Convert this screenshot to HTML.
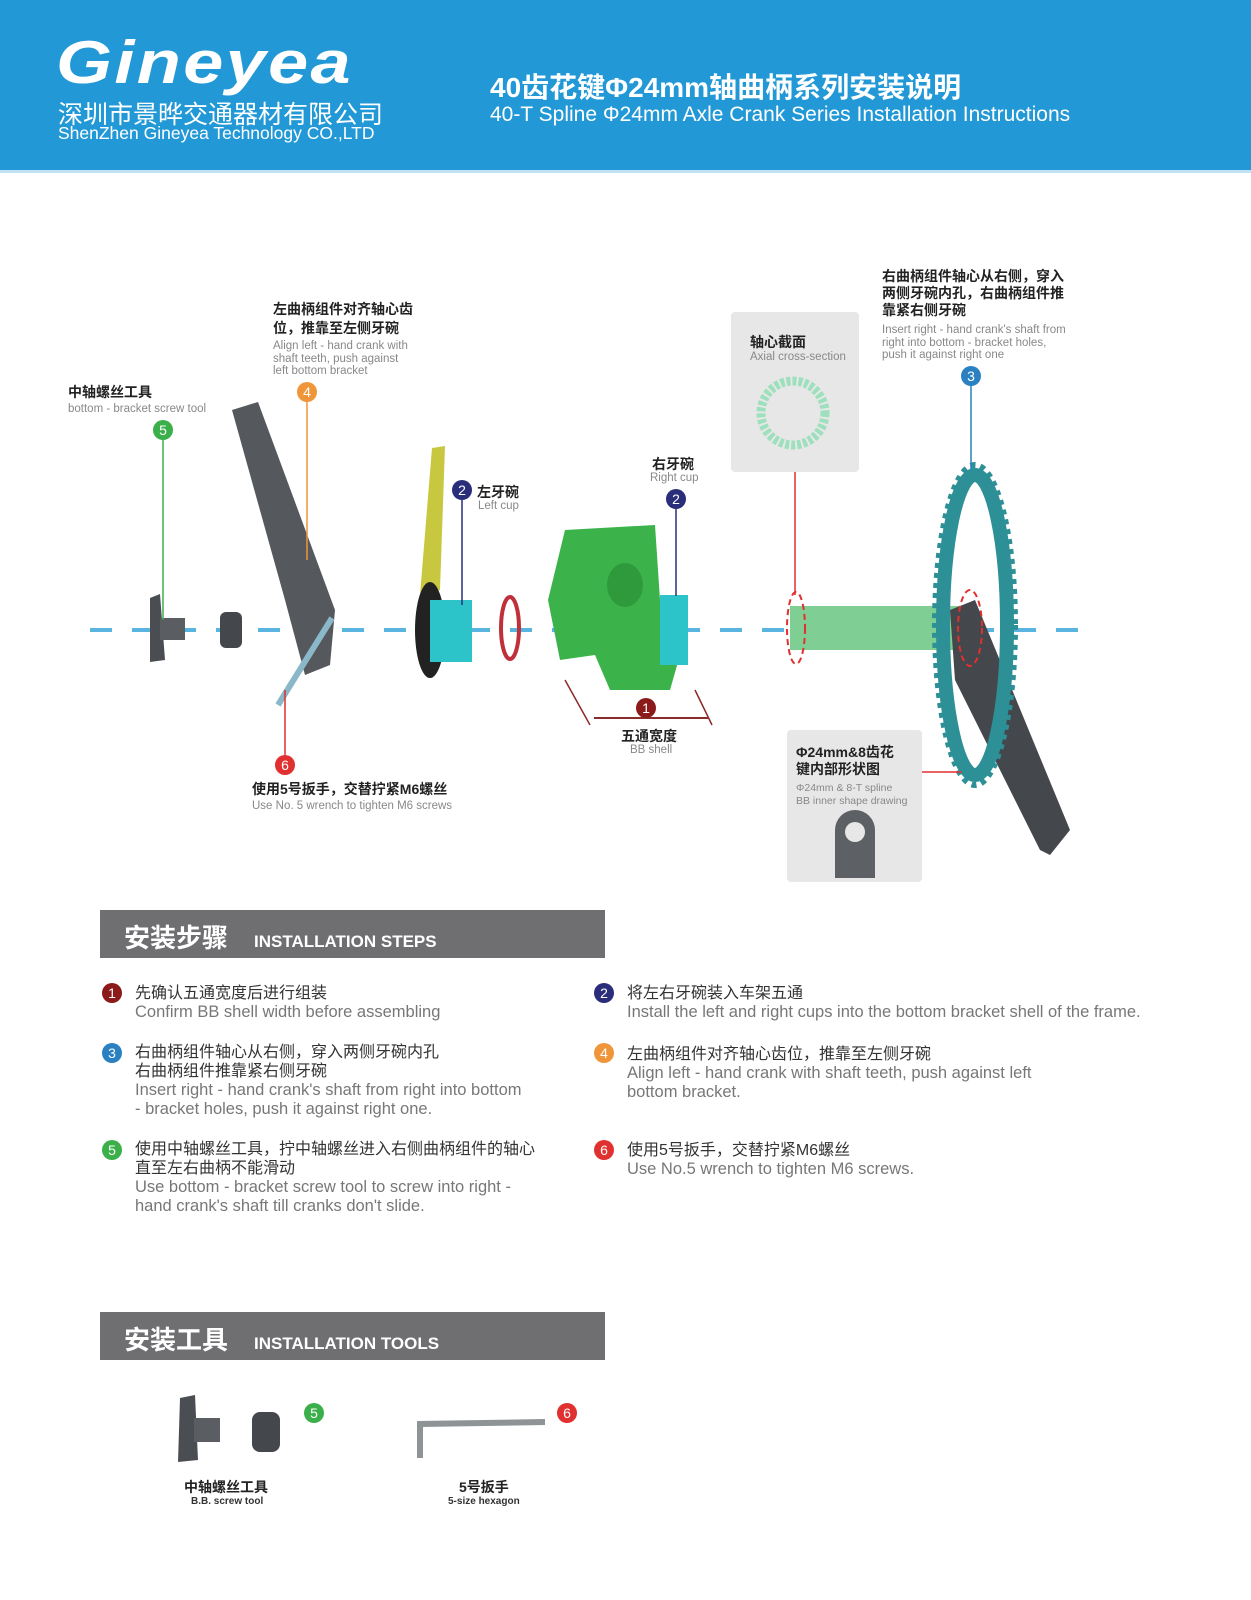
<!DOCTYPE html>
<html><head><meta charset="utf-8"><style>
body{margin:0;width:1251px;height:1600px;position:relative;background:#fff;font-family:"Liberation Sans","Noto Sans CJK SC",sans-serif;overflow:hidden}
.a{position:absolute;white-space:nowrap}
.hd{position:absolute;left:0;top:0;width:1251px;height:170px;background:#2299d6;border-bottom:3px solid #bfe3f5}
.b{position:absolute;width:20px;height:20px;border-radius:50%;color:#fff;font-size:14px;text-align:center;line-height:20px}
.cb{font-weight:bold;font-size:14px;color:#222}
.en{font-size:11.5px;color:#888}
.bar{position:absolute;left:100px;width:505px;height:48px;background:#6f6f72;color:#fff}
.st{font-size:16px;color:#333;line-height:19px}
.st .e{color:#777;font-size:16.5px}
</style></head><body>
<div class="hd"></div>
<div class="a" style="left:56px;top:28px;font-size:60px;font-style:italic;font-weight:bold;color:#fff;letter-spacing:2px;transform:scaleX(1.2);transform-origin:left">Gineyea</div>
<div class="a" style="left:58px;top:95px;font-size:25px;color:#fff">深圳市景晔交通器材有限公司</div>
<div class="a" style="left:58px;top:123px;font-size:17.5px;color:#fff">ShenZhen Gineyea Technology CO.,LTD</div>
<div class="a" style="left:490px;top:66px;font-size:28px;font-weight:bold;color:#fff">40齿花键Φ24mm轴曲柄系列安装说明</div>
<div class="a" style="left:490px;top:103px;font-size:21px;color:#fff">40-T Spline Φ24mm Axle Crank Series Installation Instructions</div>

<svg class="a" style="left:0;top:0" width="1251" height="900">
<line x1="90" y1="630" x2="1090" y2="630" stroke="#5ab4e0" stroke-width="4" stroke-dasharray="22 20"/>
<path d="M150 598 L160 594 L165 660 L150 662 Z" fill="#4a4d52"/><rect x="160" y="618" width="25" height="22" fill="#5a5d62"/>
<rect x="220" y="612" width="22" height="36" rx="6" fill="#44474c"/>
<path d="M232 410 L258 402 L335 610 L330 665 L305 675 L285 600 Z" fill="#55585d"/>
<line x1="278" y1="705" x2="332" y2="618" stroke="#8ab8c8" stroke-width="6"/>
<path d="M432 448 L445 446 L440 590 L420 595 Z" fill="#c8c840"/>
<ellipse cx="430" cy="630" rx="15" ry="48" fill="#222"/><rect x="430" y="600" width="42" height="62" fill="#2cc4c8"/>
<ellipse cx="510" cy="628" rx="9" ry="31" fill="none" stroke="#c0303a" stroke-width="4"/>
<path d="M565 530 L655 525 L660 600 L680 655 L670 690 L610 690 L595 655 L560 660 L548 600 Z" fill="#3cb34a"/>
<ellipse cx="625" cy="585" rx="18" ry="22" fill="#2e9a3c"/>
<rect x="660" y="595" width="28" height="70" fill="#2cc4c8"/>
<line x1="565" y1="680" x2="590" y2="725" stroke="#8b2a2a" stroke-width="1.5"/><line x1="695" y1="690" x2="712" y2="725" stroke="#8b2a2a" stroke-width="1.5"/>
<line x1="594" y1="718" x2="708" y2="718" stroke="#8b2a2a" stroke-width="2"/>
<rect x="790" y="606" width="170" height="44" fill="#7fcf95"/>
<ellipse cx="796" cy="628" rx="9" ry="36" fill="none" stroke="#e03030" stroke-width="2" stroke-dasharray="6 4"/>
<path d="M950 610 L975 600 L1070 830 L1050 855 L1040 850 L955 680 Z" fill="#44474c"/>
<ellipse cx="975" cy="625" rx="32" ry="150" fill="none" stroke="#2e9097" stroke-width="14"/>
<ellipse cx="975" cy="625" rx="40" ry="160" fill="none" stroke="#2e9097" stroke-width="6" stroke-dasharray="5 5"/>
<ellipse cx="970" cy="628" rx="12" ry="38" fill="none" stroke="#e03030" stroke-width="2" stroke-dasharray="6 4"/>
<rect x="731" y="312" width="128" height="160" rx="4" fill="#e7e7e7"/>
<circle cx="793" cy="413" r="32" fill="none" stroke="#9ee0bd" stroke-width="9" stroke-dasharray="4 2"/>
<rect x="787" y="730" width="135" height="152" rx="4" fill="#e7e7e7"/>
<path d="M835 878 L835 830 A20 20 0 0 1 875 830 L875 878 Z" fill="#5d6065"/><circle cx="855" cy="832" r="10" fill="#e7e7e7"/>
<line x1="163" y1="440" x2="163" y2="620" stroke="#3bb04a" stroke-width="1.5"/>
<line x1="307" y1="402" x2="307" y2="560" stroke="#f0963a" stroke-width="1.5"/>
<line x1="462" y1="500" x2="462" y2="605" stroke="#2a2d7a" stroke-width="1.5"/>
<line x1="676" y1="509" x2="676" y2="596" stroke="#2a2d7a" stroke-width="1.5"/>
<line x1="285" y1="690" x2="285" y2="755" stroke="#e03030" stroke-width="1.5"/>
<line x1="971" y1="386" x2="971" y2="470" stroke="#2a80c0" stroke-width="1.5"/>
<line x1="795" y1="472" x2="795" y2="595" stroke="#e03030" stroke-width="1.5"/>
<line x1="922" y1="772" x2="962" y2="772" stroke="#e03030" stroke-width="1.5"/>
</svg>
<div class="b" style="left:153px;top:420px;background:#3bb04a">5</div>
<div class="b" style="left:297px;top:382px;background:#f0963a">4</div>
<div class="b" style="left:452px;top:480px;background:#2a2d7a">2</div>
<div class="b" style="left:666px;top:489px;background:#2a2d7a">2</div>
<div class="b" style="left:636px;top:698px;background:#8b1a1a">1</div>
<div class="b" style="left:275px;top:755px;background:#e03030">6</div>
<div class="b" style="left:961px;top:366px;background:#2a80c0">3</div>

<div class="a cb" style="left:68px;top:382px">中轴螺丝工具</div>
<div class="a en" style="left:68px;top:403px">bottom - bracket screw tool</div>
<div class="a cb" style="left:273px;top:300px;line-height:19px">左曲柄组件对齐轴心齿<br>位，推靠至左侧牙碗</div>
<div class="a en" style="left:273px;top:340px;line-height:12.5px">Align left - hand crank with<br>shaft teeth, push against<br>left bottom bracket</div>
<div class="a cb" style="left:477px;top:482px">左牙碗</div><div class="a en" style="left:478px;top:500px">Left cup</div>
<div class="a cb" style="left:652px;top:454px">右牙碗</div><div class="a en" style="left:650px;top:472px">Right cup</div>
<div class="a cb" style="left:621px;top:726px">五通宽度</div><div class="a en" style="left:630px;top:744px">BB shell</div>
<div class="a cb" style="left:252px;top:779px">使用5号扳手，交替拧紧M6螺丝</div>
<div class="a en" style="left:252px;top:800px">Use No. 5 wrench to tighten M6 screws</div>
<div class="a cb" style="left:750px;top:332px">轴心截面</div><div class="a en" style="left:750px;top:351px">Axial cross-section</div>
<div class="a cb" style="left:882px;top:268px;line-height:17px">右曲柄组件轴心从右侧，穿入<br>两侧牙碗内孔，右曲柄组件推<br>靠紧右侧牙碗</div>
<div class="a en" style="left:882px;top:324px;line-height:12.5px">Insert right - hand crank's shaft from<br>right into bottom - bracket holes,<br>push it against right one</div>
<div class="a cb" style="left:796px;top:744px;line-height:17px">Φ24mm&amp;8齿花<br>键内部形状图</div>
<div class="a en" style="left:796px;top:782px;line-height:12.5px;font-size:10.5px">Φ24mm &amp; 8-T spline<br>BB inner shape drawing</div>

<div class="bar" style="top:910px"><span class="a" style="left:24px;top:8px;font-size:26px;font-weight:bold">安装步骤</span><span class="a" style="left:154px;top:22px;font-size:17px;font-weight:bold">INSTALLATION STEPS</span></div>
<div class="b" style="left:102px;top:983px;background:#8b1a1a">1</div>
<div class="a st" style="left:135px;top:984px">先确认五通宽度后进行组装<br><span class="e">Confirm BB shell width before assembling</span></div>
<div class="b" style="left:594px;top:983px;background:#2a2d7a">2</div>
<div class="a st" style="left:627px;top:984px">将左右牙碗装入车架五通<br><span class="e">Install the left and right cups into the bottom bracket shell of the frame.</span></div>
<div class="b" style="left:102px;top:1043px;background:#2a80c0">3</div>
<div class="a st" style="left:135px;top:1043px">右曲柄组件轴心从右侧，穿入两侧牙碗内孔<br>右曲柄组件推靠紧右侧牙碗<br><span class="e">Insert right - hand crank's shaft from right into bottom<br>- bracket holes, push it against right one.</span></div>
<div class="b" style="left:594px;top:1043px;background:#f0963a">4</div>
<div class="a st" style="left:627px;top:1045px">左曲柄组件对齐轴心齿位，推靠至左侧牙碗<br><span class="e">Align left - hand crank with shaft teeth, push against left<br>bottom bracket.</span></div>
<div class="b" style="left:102px;top:1140px;background:#3bb04a">5</div>
<div class="a st" style="left:135px;top:1140px">使用中轴螺丝工具，拧中轴螺丝进入右侧曲柄组件的轴心<br>直至左右曲柄不能滑动<br><span class="e">Use bottom - bracket screw tool to screw into right -<br>hand crank's shaft till cranks don't slide.</span></div>
<div class="b" style="left:594px;top:1140px;background:#e03030">6</div>
<div class="a st" style="left:627px;top:1141px">使用5号扳手，交替拧紧M6螺丝<br><span class="e">Use No.5 wrench to tighten M6 screws.</span></div>

<div class="bar" style="top:1312px"><span class="a" style="left:24px;top:8px;font-size:26px;font-weight:bold">安装工具</span><span class="a" style="left:154px;top:22px;font-size:17px;font-weight:bold">INSTALLATION TOOLS</span></div>
<svg class="a" style="left:0;top:1380px" width="620" height="100">
<path d="M180 18 L195 15 L198 80 L178 82 Z" fill="#4a4d52"/><rect x="194" y="38" width="26" height="24" fill="#5a5d62"/>
<rect x="252" y="32" width="28" height="40" rx="8" fill="#44474c"/>
<path d="M420 78 L420 44 L545 42" fill="none" stroke="#8e9396" stroke-width="6"/>
</svg>
<div class="b" style="left:304px;top:1403px;background:#3bb04a">5</div>
<div class="b" style="left:557px;top:1403px;background:#e03030">6</div>
<div class="a cb" style="left:184px;top:1477px">中轴螺丝工具</div>
<div class="a" style="left:191px;top:1496px;font-size:10px;font-weight:bold;color:#333">B.B. screw tool</div>
<div class="a cb" style="left:459px;top:1477px">5号扳手</div>
<div class="a" style="left:448px;top:1496px;font-size:10px;font-weight:bold;color:#333">5-size hexagon</div>
</body></html>
